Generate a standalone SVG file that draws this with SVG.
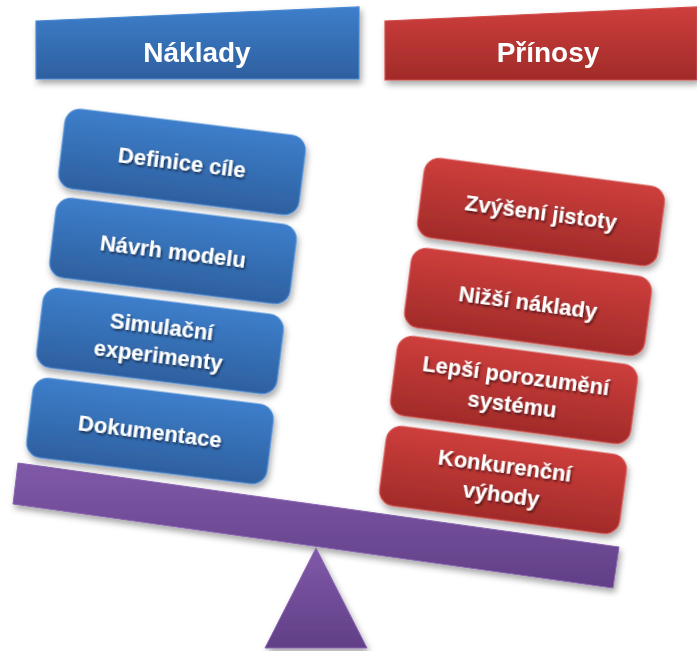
<svg xmlns="http://www.w3.org/2000/svg" width="697" height="651" viewBox="0 0 697 651">
<defs>
<linearGradient id="gBlue" x1="0" y1="0" x2="0" y2="1"><stop offset="0" stop-color="#3D7ECB"/><stop offset="1" stop-color="#2E609F"/></linearGradient>
<linearGradient id="gRed" x1="0" y1="0" x2="0" y2="1"><stop offset="0" stop-color="#CD3E3C"/><stop offset="1" stop-color="#A12B29"/></linearGradient>
<linearGradient id="gPurple" x1="0" y1="0" x2="0" y2="1"><stop offset="0" stop-color="#8059A9"/><stop offset="1" stop-color="#613F86"/></linearGradient>
<filter id="sh" x="-10%" y="-10%" width="125%" height="135%"><feDropShadow dx="2" dy="4" stdDeviation="3" flood-color="#000" flood-opacity="0.35"/></filter>
<filter id="tsh" x="-10%" y="-30%" width="120%" height="170%"><feDropShadow dx="1.5" dy="2" stdDeviation="1" flood-color="#000" flood-opacity="0.55"/></filter>
<style>
.blue{fill:url(#gBlue);stroke:#4A8AD4;stroke-width:1.2}
.red{fill:url(#gRed);stroke:#D24E4B;stroke-width:1.2}
.pur{fill:url(#gPurple);stroke:#8A66B2;stroke-width:1}
.t{font-family:"Liberation Sans",Arial,sans-serif;font-weight:bold;fill:#fff;text-anchor:middle;font-size:22px}
.h{font-family:"Liberation Sans",Arial,sans-serif;font-weight:bold;fill:#fff;text-anchor:middle;font-size:28px}
</style>
</defs>
<g id="header-naklady" filter="url(#sh)">
<polygon class="blue" points="36,21 359,7 359,79 36,79"/>
<text class="h" x="197" y="62">Náklady</text>
</g>
<g id="header-prinosy" filter="url(#sh)">
<polygon class="red" points="385,21 697,7 697,80 385,80"/>
<text class="h" x="548" y="62">Přínosy</text>
</g>
<g id="beam" filter="url(#sh)">
<polygon class="pur" points="18,463 619,547 613,588 13,504"/>
</g>
<g id="fulcrum" filter="url(#sh)">
<polygon class="pur" points="316,548 367,648 265,648"/>
</g>
<g id="b1" transform="translate(182,162) rotate(7)"><rect class="blue" x="-121" y="-40" width="242" height="80" rx="15" filter="url(#sh)"/><text class="t" y="8" filter="url(#tsh)">Definice cíle</text></g>
<g id="b2" transform="translate(173,251) rotate(7)"><rect class="blue" x="-121" y="-40" width="242" height="80" rx="15" filter="url(#sh)"/><text class="t" y="8" filter="url(#tsh)">Návrh modelu</text></g>
<g id="b3" transform="translate(160,341) rotate(7)"><rect class="blue" x="-121" y="-40" width="242" height="80" rx="15" filter="url(#sh)"/><text class="t" y="-7" filter="url(#tsh)"><tspan x="0">Simulační</tspan><tspan x="0" dy="29">experimenty</tspan></text></g>
<g id="b4" transform="translate(150,431) rotate(7)"><rect class="blue" x="-121" y="-40" width="242" height="80" rx="15" filter="url(#sh)"/><text class="t" y="8" filter="url(#tsh)">Dokumentace</text></g>
<g id="r1" transform="translate(541,212) rotate(7.5)"><rect class="red" x="-121" y="-40" width="242" height="80" rx="15" filter="url(#sh)"/><text class="t" y="8" filter="url(#tsh)">Zvýšení jistoty</text></g>
<g id="r2" transform="translate(528,302) rotate(7.5)"><rect class="red" x="-121" y="-40" width="242" height="80" rx="15" filter="url(#sh)"/><text class="t" y="8" filter="url(#tsh)">Nižší náklady</text></g>
<g id="r3" transform="translate(514,390) rotate(7.5)"><rect class="red" x="-121" y="-40" width="242" height="80" rx="15" filter="url(#sh)"/><text class="t" y="-7" filter="url(#tsh)"><tspan x="0">Lepší porozumění</tspan><tspan x="0" dy="29">systému</tspan></text></g>
<g id="r4" transform="translate(503,480) rotate(7.5)"><rect class="red" x="-121" y="-40" width="242" height="80" rx="15" filter="url(#sh)"/><text class="t" y="-7" filter="url(#tsh)"><tspan x="0">Konkurenční</tspan><tspan x="0" dy="29">výhody</tspan></text></g>
</svg>
